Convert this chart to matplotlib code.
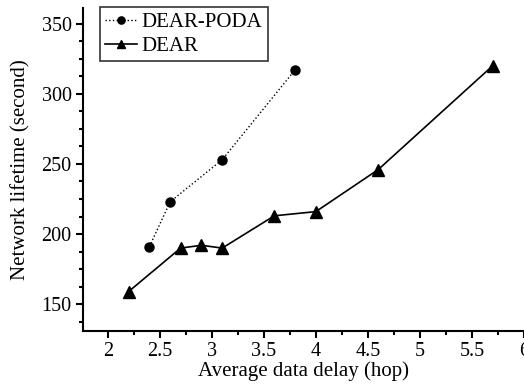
from matplotlib import pyplot as plt
from matplotlib.ticker import MultipleLocator

# data
poda_x = [2.4, 2.6, 3.1, 3.8]
poda_y = [191, 223, 253, 317]
dear_x = [2.2, 2.7, 2.9, 3.1, 3.6, 4.0, 4.6, 5.7]
dear_y = [159, 190, 192, 190, 213, 216, 246, 320]

plt.rcParams['font.family'] = ['Liberation Serif', 'DejaVu Serif']

fig = plt.figure(figsize=(5.24, 3.87), dpi=100)
ax = fig.add_axes([0.158, 0.145, 0.842, 0.834])

ax.plot(poda_x, poda_y, color="black", linestyle=":", linewidth=1.0,
        marker="o", markersize=6.5, label="DEAR-PODA")
ax.plot(dear_x, dear_y, color="black", linestyle="-", linewidth=1.2,
        marker="^", markersize=8, label="DEAR")

ax.set_xlim(1.76, 6.0)
ax.set_ylim(131, 361)
ax.set_xticks([2, 2.5, 3, 3.5, 4, 4.5, 5, 5.5, 6])
ax.set_xticklabels(["2", "2.5", "3", "3.5", "4", "4.5", "5", "5.5", "6"])
ax.xaxis.set_minor_locator(MultipleLocator(0.25))
ax.set_yticks([150, 200, 250, 300, 350])
ax.yaxis.set_minor_locator(MultipleLocator(12.5))

for s in ["top", "right"]:
    ax.spines[s].set_visible(False)
for s in ["left", "bottom"]:
    ax.spines[s].set_linewidth(1.5)
ax.tick_params(which="major", direction="out", length=5, width=1.5, labelsize=14.5, pad=3)
ax.tick_params(which="minor", direction="out", length=3, width=1.5)

ax.set_xlabel("Average data delay (hop)", fontsize=15, labelpad=0)
ax.set_ylabel("Network lifetime (second)", fontsize=15, labelpad=8)

leg = ax.legend(loc="upper left", bbox_to_anchor=(0.03, 1.015), fontsize=15,
                frameon=True, fancybox=False, edgecolor="black",
                handlelength=1.5, handletextpad=0.25, borderpad=0.25,
                labelspacing=0.2, borderaxespad=0.2, markerscale=0.8)
leg.get_frame().set_linewidth(1.2)

fig.savefig("out.png", dpi=100)
